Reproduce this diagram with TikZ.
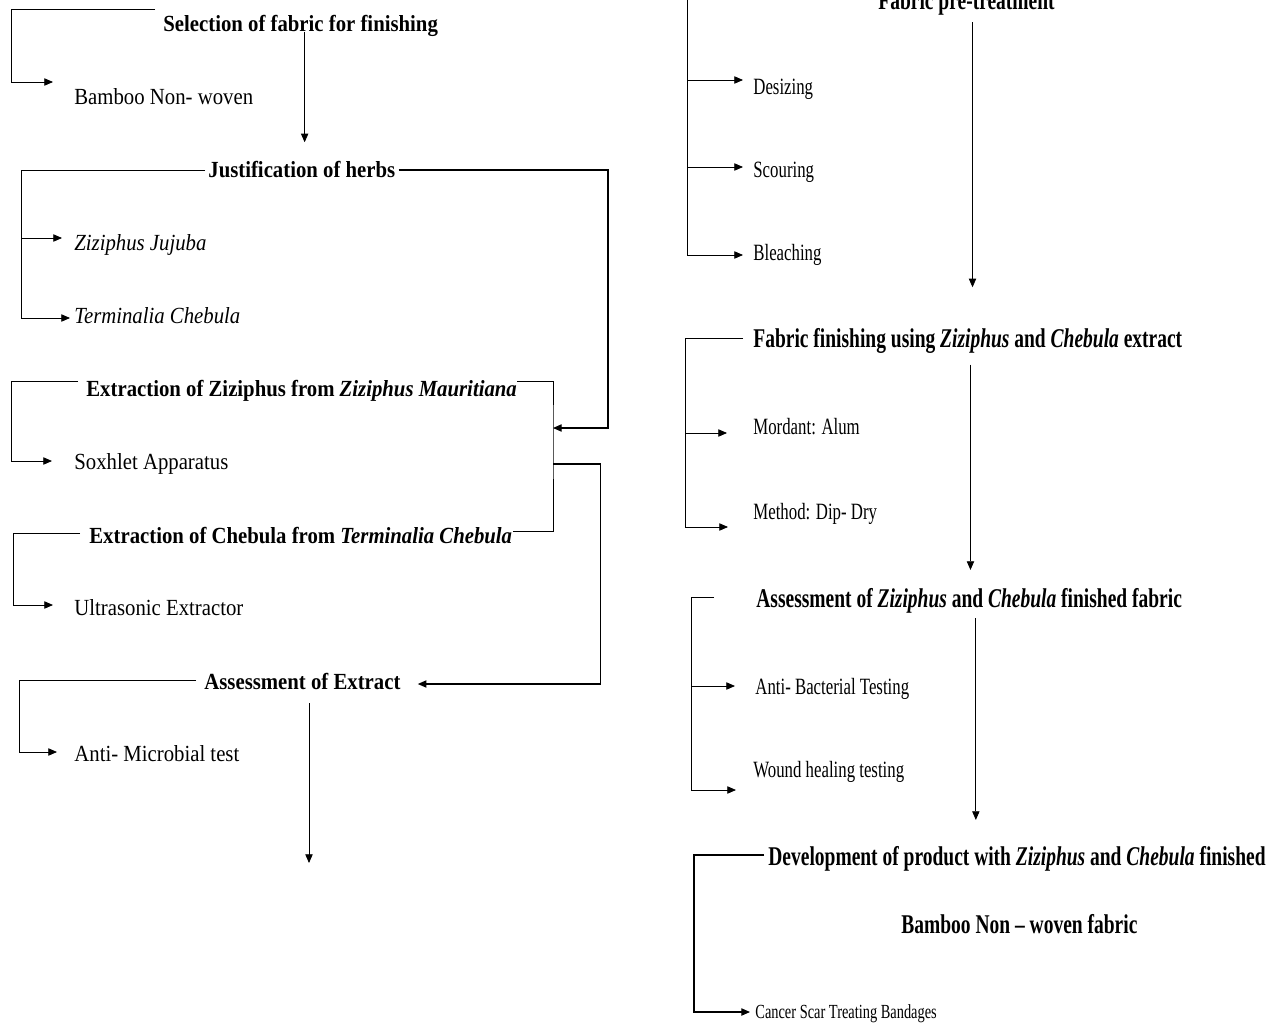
\documentclass[tikz,border=0pt]{standalone}
\usepackage{fontspec}
\setmainfont{Liberation Serif}
\newfontfamily\leftfont[FakeStretch=0.9]{Liberation Serif}
\newfontfamily\rightfont[FakeStretch=0.72]{Liberation Serif}
\usetikzlibrary{arrows.meta,calc}

\tikzset{
  ltext/.style={anchor=west,inner sep=0pt,text height=11pt,text depth=0pt,font=\leftfont\fontsize{17.3}{20}\selectfont},
  lhead/.style={ltext,font=\leftfont\bfseries\fontsize{17.3}{20}\selectfont},
  rtext/.style={anchor=west,inner sep=0pt,text height=11.5pt,text depth=0pt,font=\rightfont\fontsize{17.5}{20}\selectfont},
  rhead/.style={anchor=west,inner sep=0pt,text height=13.5pt,text depth=0pt,font=\rightfont\bfseries\fontsize{20.3}{24}\selectfont},
  rsmall/.style={rtext,text height=10pt,font=\rightfont\fontsize{15}{18}\selectfont}
}

\begin{document}
\begin{tikzpicture}[x=0.75pt,y=-0.75pt,>={Triangle[length=6.5pt,width=5.5pt]},semithick]

    \useasboundingbox (0,0) rectangle (1283,1028);

    \node (sel) [lhead] at (163,24)  {Selection of fabric for finishing};
    \node (bam) [ltext] at (74,97)   {Bamboo Non- woven};
    \node (jus) [lhead] at (208,170) {Justification of herbs};
    \node (zj)  [ltext] at (74,243)  {\textit{Ziziphus Jujuba}};
    \node (tc)  [ltext] at (74,316)  {\textit{Terminalia Chebula}};
    \node (exz) [lhead] at (86,389)  {Extraction of Ziziphus from \textit{Ziziphus Mauritiana}};
    \node (sox) [ltext] at (74,462)  {Soxhlet Apparatus};
    \node (exc) [lhead] at (89,536)  {Extraction of Chebula from \textit{Terminalia Chebula}};
    \node (ult) [ltext] at (74,608)  {Ultrasonic Extractor};
    \node (ase) [lhead] at (204,682) {Assessment of Extract};
    \node (ami) [ltext] at (74,754)  {Anti- Microbial test};

    \node (pre) [rhead] at (878,1)   {Fabric pre-treatment};
    \node (des) [rtext] at (753,87)  {Desizing};
    \node (sco) [rtext] at (753,170) {Scouring};
    \node (ble) [rtext] at (753,253) {Bleaching};
    \node (fin) [rhead] at (753,338) {Fabric finishing using \textit{Ziziphus} and \textit{Chebula} extract};
    \node (mor) [rtext] at (753,427) {Mordant: Alum};
    \node (met) [rtext] at (753,512) {Method: Dip- Dry};
    \node (asf) [rhead] at (756,598) {Assessment of \textit{Ziziphus} and \textit{Chebula} finished fabric};
    \node (ant) [rtext] at (755,687) {Anti- Bacterial Testing};
    \node (wou) [rtext] at (753,770) {Wound healing testing};
    \node (dev) [rhead] at (768,856) {Development of product with \textit{Ziziphus} and \textit{Chebula} finished};
    \node (fab) [rhead] at (901,924) {Bamboo Non – woven fabric};
    \node (can) [rsmall] at (755,1012) {Cancer Scar Treating Bandages};

    \coordinate (join) at (553,428);
    \coordinate (split) at (553,464);
    \coordinate (leftend) at (309,863);

    \draw[->] ($(sel.west)+(-8,-15)$) -| ($(bam.west)+(-63,-15)$) -- ($(bam.west)+(-21,-15)$);
    \draw[->,shorten >=15pt] ([xshift=3pt]sel.south) -- ([xshift=3pt]sel.south |- jus.north);
    \draw[->] ($(jus.west)+(-3,0)$) -| ($(tc.west)+(-53,2)$) -- ($(tc.west)+(-4,2)$);
    \draw[->] ($(zj.west)+(-53,-5)$) -- ($(zj.west)+(-12,-5)$);
    \draw[->,thick] ($(jus.east)+(3,0)$) -| ($(join)+(55,0)$) -- (join);
    \draw ($(exz.east)+(0,-8)$) -| (join) |- ($(exc.east)+(0,-5)$);
    \draw[->,thick] (split) -| ($(ase.east)+(200,2)$) -- ($(ase.east)+(17,2)$);
    \draw[->] ($(exz.west)+(-8,-8)$) -| ($(sox.west)+(-63,-1)$) -- ($(sox.west)+(-22,-1)$);
    \draw[->] ($(exc.west)+(-9,-3)$) -| ($(ult.west)+(-61,-3)$) -- ($(ult.west)+(-21,-3)$);
    \draw[->] ($(ase.west)+(-8,-2)$) -| ($(ami.west)+(-55,-2)$) -- ($(ami.west)+(-17,-2)$);
    \draw[->,shorten <=10pt] (ase.south -| leftend) -- (leftend);

    \draw[->] ($(pre.west)+(-8,-14)$) -| ($(ble.west)+(-66,2)$) -- ($(ble.west)+(-10,2)$);
    \draw[->] ($(des.west)+(-66,-7)$) -- ($(des.west)+(-10,-7)$);
    \draw[->] ($(sco.west)+(-66,-3)$) -- ($(sco.west)+(-10,-3)$);
    \draw[->,shorten <=9pt,shorten >=31pt] ([xshift=4.5pt]pre.south) -- ([xshift=4.5pt]pre.south |- fin.north);
    \draw[->] ($(fin.west)+(-10,0)$) -| ($(met.west)+(-68,15)$) -- ($(met.west)+(-25,15)$);
    \draw[->] ($(mor.west)+(-68,6)$) -- ($(mor.west)+(-26,6)$);
    \draw[->,shorten <=13pt,shorten >=14pt] ([xshift=2pt]fin.south) -- ([xshift=2pt]fin.south |- asf.north);
    \draw[->] ($(asf.west)+(-42,-1)$) -| ($(wou.west)+(-62,20)$) -- ($(wou.west)+(-17,20)$);
    \draw[->] ($(ant.west)+(-64,-1)$) -- ($(ant.west)+(-20,-1)$);
    \draw[->,shorten <=8pt,shorten >=20pt] ([xshift=5pt]asf.south) -- ([xshift=5pt]asf.south |- dev.north);
    \draw[->,thick] ($(dev.west)+(-4,-1)$) -| ($(can.west)+(-61,0)$) -- ($(can.west)+(-5,0)$);

\end{tikzpicture}
\end{document}
